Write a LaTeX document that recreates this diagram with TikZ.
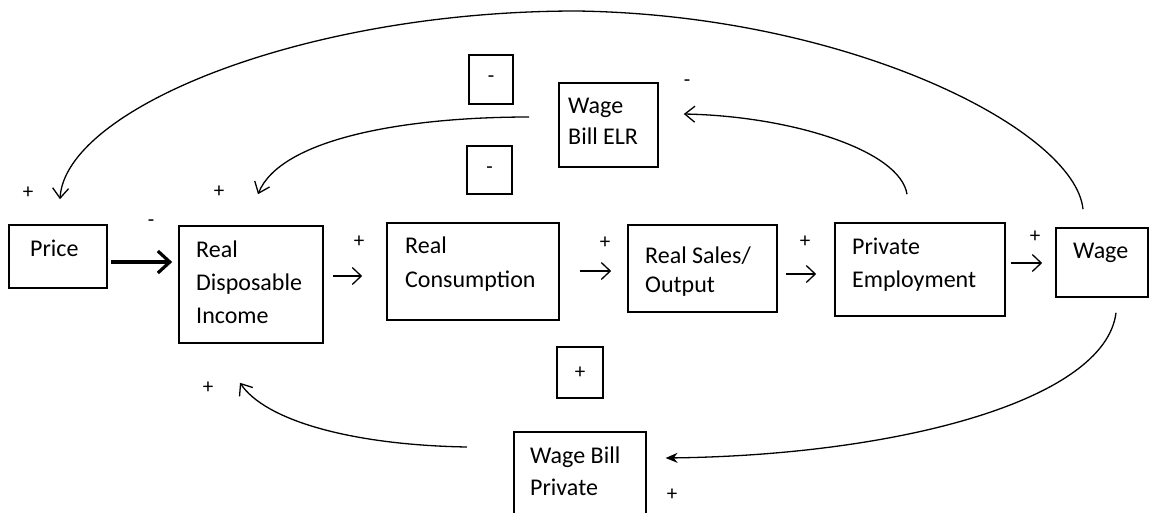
\documentclass[tikz,border=0pt]{standalone}
\usepackage{fontspec}
\setmainfont{Carlito}
\usetikzlibrary{arrows.meta}
\tikzset{
  box/.style={draw, line width=1.6pt, inner sep=0pt},
  lbl/.style={inner sep=0pt, anchor=base west, align=left, font=\fontsize{24}{33}\selectfont},
  sgn/.style={inner sep=0pt, font=\fontsize{21}{21}\selectfont},
  flow/.style={line width=1.3pt, -{Straight Barb[length=9pt,width=17pt,line width=1.3pt]}},
  thick flow/.style={line width=3.2pt, -{Straight Barb[length=12pt,width=22pt,line width=3.2pt]}},
  curve/.style={line width=1.3pt, -{Straight Barb[length=10pt,width=16pt,line width=1.3pt]}},
  curvefill/.style={line width=1.3pt, -{Stealth[length=12pt,width=10pt]}}
}
\begin{document}
\begin{tikzpicture}[x=1pt,y=-1pt]
\useasboundingbox (0,0) rectangle (1152,512);
\clip (0,0) rectangle (1152,512);
% boxes
\node[box, minimum width=98, minimum height=63] (price) at (58,256.5) {};
\node[box, minimum width=144, minimum height=117] (rdi) at (251,284.5) {};
\node[box, minimum width=172, minimum height=97] (rc) at (473,271.5) {};
\node[box, minimum width=149, minimum height=87] (rs) at (702.5,268.5) {};
\node[box, minimum width=170, minimum height=93] (pe) at (920,269.5) {};
\node[box, minimum width=92, minimum height=69] (wage) at (1102,262.5) {};
\node[box, minimum width=99, minimum height=84] (elr) at (608.5,125) {};
\node[box, minimum width=44, minimum height=49] (m1) at (491,79.5) {};
\node[box, minimum width=45, minimum height=48] (m2) at (489.5,170) {};
\node[box, minimum width=46, minimum height=51] (p1) at (580,372.5) {};
\node[box, minimum width=132, minimum height=99, anchor=north west] (wbp) at (513,431) {};
% texts (anchored at the baseline of the last line)
\node[lbl] (pricet) at (30,256) {Price};
\node[lbl] (rdit) at (196,323) {Real\\Disposable\\Income};
\node[lbl, font=\fontsize{24}{34}\selectfont] (rct) at (405,287) {Real\\Consumption};
\node[lbl, font=\fontsize{24}{29}\selectfont] (rst) at (645,292) {Real Sales/\\Output};
\node[lbl] (pet) at (852,287) {Private\\Employment};
\node[lbl] (waget) at (1073,258) {Wage};
\node[lbl, font=\fontsize{24}{31}\selectfont] (elrt) at (568,144) {Wage\\Bill ELR};
\node[lbl, font=\fontsize{24}{32}\selectfont] (wbpt) at (530,495) {Wage Bill\\Private};
% signs
\node[sgn] (s1) at (491,79.5) {-};
\node[sgn] (s2) at (489.5,170) {-};
\node[sgn] (s3) at (580,372.5) {+};
\node[sgn] (s4) at (28,193) {+};
\node[sgn] (s5) at (219,192) {+};
\node[sgn] (s6) at (151,223) {-};
\node[sgn] (s7) at (359,242) {+};
\node[sgn] (s8) at (605,243) {+};
\node[sgn] (s9) at (805,242) {+};
\node[sgn] (s10) at (1035,237) {+};
\node[sgn] (s11) at (687,83) {-};
\node[sgn] (s12) at (208,388) {+};
\node[sgn] (s13) at (672,495) {+};
% straight connectors
\draw[thick flow] ([shift={(3,5.5)}]price.east) -- ([shift={(-6,-22.5)}]rdi.west);
\draw[flow] ([shift={(9,-8.5)}]rdi.east) -- ([shift={(-24,4.5)}]rc.west);
\draw[flow] ([shift={(20,-0.5)}]rc.east) -- ([shift={(-16,2.5)}]rs.west);
\draw[flow] ([shift={(8,5.5)}]rs.east) -- ([shift={(-18,4.5)}]pe.west);
\draw[flow] ([shift={(5,-6.5)}]pe.east) -- ([shift={(-13,0.5)}]wage.west);
% curved connectors
\draw[curve] ([shift={(-19,-18)}]wage.north) .. controls (1075,130) and (850,15) .. (577,11)
  .. controls (300,11) and (65,110) .. ([shift={(2,-25)}]price.north);
\draw[curve] ([shift={(-29,-8)}]elr.west) .. controls (400,117) and (280,140) .. ([shift={(7,-31)}]rdi.north);
\draw[curve] ([shift={(-13,-28)}]pe.north) .. controls (900,150) and (790,116) .. ([shift={(25,-11)}]elr.east);
\draw[curvefill] ([shift={(14,15)}]wage.south) .. controls (1105,400) and (900,455) .. ([shift={(19,27)}]wbp.north east);
\draw[curve] ([shift={(-46,16)}]wbp.north west) .. controls (350,445) and (265,420) .. ([shift={(-11,39)}]rdi.south);
\end{tikzpicture}
\end{document}
